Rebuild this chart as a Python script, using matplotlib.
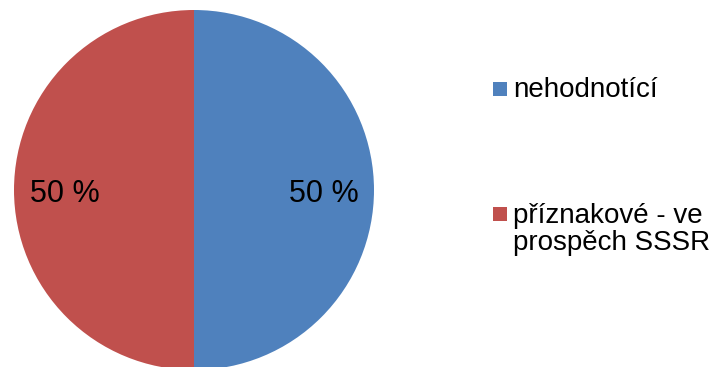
import matplotlib
matplotlib.use("Agg")
import matplotlib.pyplot as plt
from matplotlib.patches import Rectangle

plt.rcParams['font.family'] = ['Liberation Sans', 'DejaVu Sans']

# data
labels = ["nehodnotící", "příznakové - ve\nprospěch SSSR"]
values = [50, 50]
colors = ["#4F81BD", "#C0504D"]

W, H = 716, 367
fig = plt.figure(figsize=(W / 100, H / 100), dpi=100)

# pie axes: 360 px square, centre at (194, 190) from top-left
ax = fig.add_axes([14 / W, (H - 370) / H, 360 / W, 360 / H])
wedges, texts, autotexts = ax.pie(
    values, colors=colors, startangle=90, counterclock=False,
    autopct=lambda p: f"{p:.0f} %", pctdistance=0.72,
    wedgeprops=dict(linewidth=0),
    textprops=dict(fontsize=22, color="black"))
for t in autotexts:
    x, y = t.get_position()
    t.set_position((x, y - 0.025))
ax.set_xlim(-1, 1)
ax.set_ylim(-1, 1)
ax.set_aspect("equal")
ax.axis("off")

# legend drawn by hand so the square lines up with the first text line
box_top = [82, 207]
line_h = 28
for lab, col, top in zip(labels, colors, box_top):
    fig.add_artist(Rectangle((493 / W, 1 - (top + 14) / H), 14 / W, 14 / H,
                             transform=fig.transFigure, facecolor=col,
                             edgecolor="none"))
    # baseline of the last line
    nlines = lab.count("\n") + 1
    base = top + 15 + (nlines - 1) * line_h
    fig.text(513 / W, 1 - base / H, lab, fontsize=20, va="baseline",
             ha="left", linespacing=1.07)

fig.savefig("out.png", dpi=100)
